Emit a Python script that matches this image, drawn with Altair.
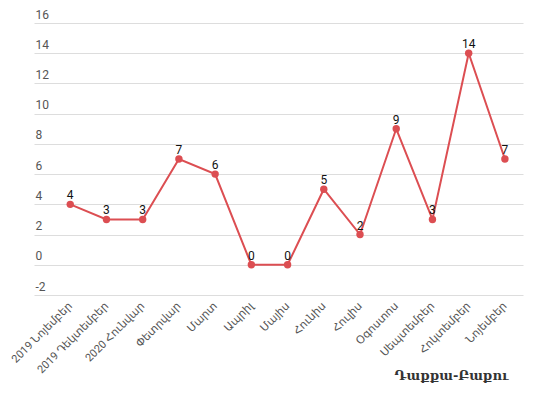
import altair as alt
import pandas as pd

months = ["2019 Նոյեմբեր", "2019 Դեկտեմբեր", "2020 Հունվար", "Փետրվար", "Մարտ",
          "Ապրիլ", "Մայիս", "Հունիս", "Հուլիս", "Օգոստոս", "Սեպտեմբեր",
          "Հոկտեմբեր", "Նոյեմբեր"]
values = [4, 3, 3, 7, 6, 0, 0, 5, 2, 9, 3, 14, 7]
y_ticks = [-2, 0, 2, 4, 6, 8, 10, 12, 14, 16]
title_text = "Դաքքա-Բաքու"

df = pd.DataFrame({"month": months, "value": values})

RED = "#dc4e52"
FONT = "Roboto, Noto Sans, DejaVu Sans, sans-serif"

x = alt.X("month:N", sort=months,
          scale=alt.Scale(type="point", padding=0.75, align=0.667),
          axis=alt.Axis(title=title_text, labelAngle=-45, labelAlign="right",
                        labelBaseline="middle", labelPadding=9, labelFontSize=11,
                        labelColor="#555", labelFont=FONT, domain=False, ticks=False,
                        grid=False, titleFont="DejaVu Serif", titleFontSize=13,
                        titleFontWeight="bold", titleColor="#333",
                        titleX=417, titleY=80, titleAlign="center",
                        titleBaseline="middle"))
y = alt.Y("value:Q", scale=alt.Scale(domain=[-2, 16], nice=False),
          axis=alt.Axis(title=None, values=y_ticks, labelExpr="'' + datum.value",
                        labelAlign="left",
                        labelBaseline="bottom", labelPadding=-1, labelOffset=-2,
                        labelFontSize=12, labelColor="#555", labelFont=FONT,
                        domain=False, ticks=False, tickSize=0, gridColor="#dddddd",
                        gridWidth=1))

base = alt.Chart(df).encode(x=x, y=y)
line = base.mark_line(color=RED, strokeWidth=2)
pts = base.mark_point(filled=True, color=RED, size=55, opacity=1)
txt = base.mark_text(dy=-9, fontSize=12, color="#111", font=FONT).encode(text="value:Q")

chart = (line + pts + txt).properties(
    width=489, height=272,
    autosize=alt.AutoSizeParams(type="none"),
    padding={"left": 26, "top": 15, "right": 5, "bottom": 90},
).configure_view(stroke=None)

chart.save("out.html", embed_options={"renderer": "svg", "actions": False})
